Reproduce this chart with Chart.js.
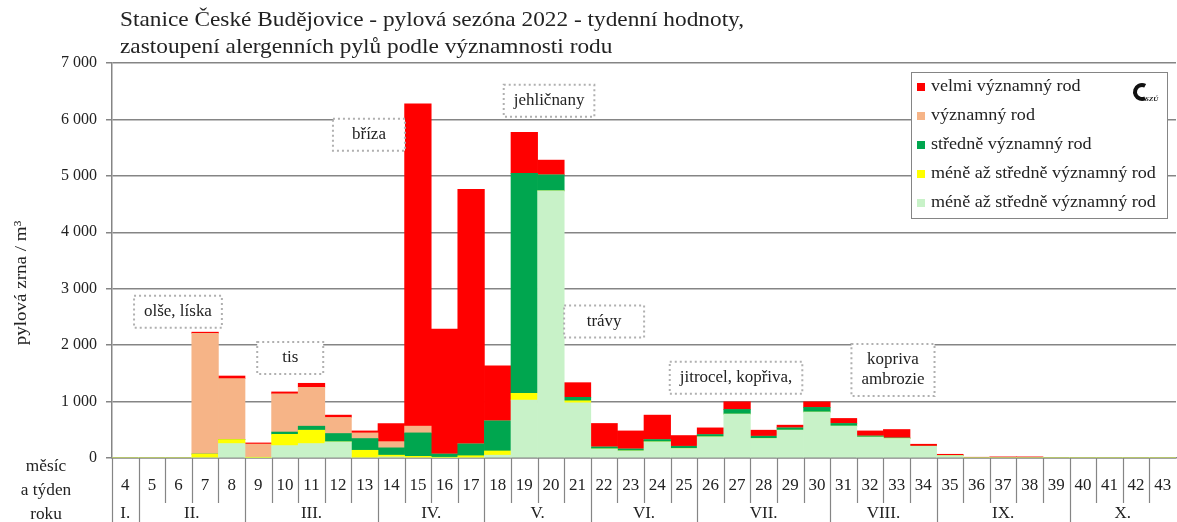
<!DOCTYPE html>
<html lang="cs">
<head>
<meta charset="utf-8">
<title>Stanice České Budějovice - pylová sezóna 2022</title>
<script src="https://cdn.jsdelivr.net/npm/chart.js@4/dist/chart.umd.min.js"></script>
<style>
  html, body { margin: 0; padding: 0; background: #fff; }
  #wrap { width: 1177px; height: 522px; }
</style>
</head>
<body>
<div id="wrap"><canvas id="pollen" width="1177" height="522"></canvas></div>
<script>
// calendar weeks 4..43
const weeks = [4, 5, 6, 7, 8, 9, 10, 11, 12, 13, 14, 15, 16, 17, 18, 19, 20, 21, 22, 23,
               24, 25, 26, 27, 28, 29, 30, 31, 32, 33, 34, 35, 36, 37, 38, 39, 40, 41, 42, 43];
const monthNames  = ['I.', 'II.', 'III.', 'IV.', 'V.', 'VI.', 'VII.', 'VIII.', 'IX.', 'X.'];
const monthStarts = [4, 5, 9, 14, 18, 22, 26, 31, 35, 40];
const yTicks = [0, 1000, 2000, 3000, 4000, 5000, 6000, 7000];

// stacked from the bottom up
const lowMediumB = [0, 0, 0, 0, 256, 0, 220, 256, 285, 0, 20, 0, 0, 0, 50, 1027, 4733, 979, 160, 125,
                    285, 167, 374, 777, 345, 493, 813, 564, 370, 345, 208, 42, 0, 0, 0, 0, 0, 0, 0, 0];
const lowMediumA = [0, 0, 0, 70, 71, 10, 200, 237, 0, 137, 30, 30, 10, 40, 75, 119, 0, 35, 0, 0,
                    0, 0, 0, 0, 0, 0, 0, 0, 0, 0, 0, 0, 0, 0, 0, 0, 0, 0, 0, 0];
const medium     = [0, 0, 0, 0, 0, 0, 40, 71, 149, 208, 130, 415, 60, 210, 533, 3897, 285, 61, 36, 35,
                    42, 41, 42, 84, 41, 41, 84, 48, 20, 10, 0, 0, 0, 0, 0, 0, 0, 0, 0, 0];
const important  = [0, 0, 0, 2140, 1079, 237, 676, 689, 285, 100, 110, 120, 0, 0, 0, 0, 0, 0, 0, 0,
                    0, 0, 0, 0, 0, 0, 0, 0, 0, 0, 0, 0, 0, 0, 0, 0, 0, 0, 0, 0];
const veryImportant = [0, 0, 0, 20, 47, 20, 35, 71, 41, 35, 320, 5710, 2215, 4510, 974, 729, 261, 260, 416, 320,
                       433, 190, 118, 135, 107, 48, 99, 89, 90, 150, 36, 24, 12, 20, 20, 0, 0, 0, 0, 0];

// dotted label boxes: [lines, week-index centre, value centre, min box width]
const notes = [
  [['olše, líska'], 1.98, 2590, 0],
  [['tis'], 6.2, 1770, 66],
  [['bříza'], 9.16, 5730, 72],
  [['jehličnany'], 15.93, 6330, 0],
  [['trávy'], 18.0, 2420, 80],
  [['jitrocel, kopřiva,'], 22.96, 1420, 0],
  [['kopriva', 'ambrozie'], 28.86, 1560, 0]
];

const SERIF = "'Liberation Serif', 'DejaVu Serif', serif";
const INK = '#222';
const LINE = '#858585';

const series = [
  { label: 'méně až středně významný rod', data: lowMediumB, color: '#c8f2c8' },
  { label: 'méně až středně významný rod', data: lowMediumA, color: '#ffff00' },
  { label: 'středně významný rod', data: medium, color: '#00a64f' },
  { label: 'významný rod', data: important, color: '#f6b487' },
  { label: 'velmi významný rod', data: veryImportant, color: '#ff0000' }
];

const fmt = v => v === 0 ? '0' : (v / 1000) + ' 000';

// the original face is a wide book serif; stretch Liberation Serif a bit
function wide(ctx, text, x, y, k) {
  ctx.save();
  ctx.translate(x, y);
  ctx.scale(k, 1);
  ctx.fillText(text, 0, 0);
  ctx.restore();
}

const decor = {
  id: 'decor',
  afterDatasetsDraw(chart) {
    const { ctx, chartArea, scales: { x, y } } = chart;
    ctx.save();

    // titles
    ctx.fillStyle = INK;
    ctx.font = '22px ' + SERIF;
    ctx.textAlign = 'left';
    ctx.textBaseline = 'middle';
    wide(ctx, 'Stanice České Budějovice - pylová sezóna 2022 - tydenní hodnoty,', 120, 20, 1.06);
    wide(ctx, 'zastoupení alergenních pylů podle významnosti rodu', 120, 47, 1.06);

    ctx.save();
    ctx.translate(22, 283);
    ctx.rotate(-Math.PI / 2);
    ctx.textAlign = 'center';
    ctx.font = '17px ' + SERIF;
    wide(ctx, 'pylová zrna / m³', 0, 0, 1.12);
    ctx.restore();

    // dotted note boxes
    ctx.font = '16px ' + SERIF;
    ctx.textAlign = 'center';
    notes.forEach(([lines, wi, v, minW]) => {
      const cx = x.getPixelForValue(wi), cy = y.getPixelForValue(v);
      const w = Math.max(minW, Math.max(...lines.map(t => ctx.measureText(t).width)) * 1.06 + 20);
      const h = lines.length * 20 + 12;
      ctx.fillStyle = '#fff';
      ctx.fillRect(cx - w / 2, cy - h / 2, w, h);
      ctx.setLineDash([2, 3]);
      ctx.lineWidth = 2;
      ctx.strokeStyle = '#b0b0b0';
      ctx.strokeRect(cx - w / 2, cy - h / 2, w, h);
      ctx.setLineDash([]);
      ctx.fillStyle = INK;
      lines.forEach((t, k) => wide(ctx, t, cx, cy - (lines.length - 1) * 10 + k * 20, 1.06));
    });

    // legend box
    const lx = 911, ly = 72;
    ctx.fillStyle = '#fff';
    ctx.fillRect(lx, ly, 256, 146);
    ctx.strokeStyle = LINE;
    ctx.lineWidth = 1;
    ctx.strokeRect(lx + 0.5, ly + 0.5, 256, 146);
    ctx.textAlign = 'left';
    ctx.font = '16px ' + SERIF;
    chart.data.datasets.slice().reverse().forEach((ds, k) => {
      const yy = ly + 15 + k * 29;
      ctx.fillStyle = ds.backgroundColor;
      ctx.fillRect(lx + 6, yy - 4, 8, 8);
      ctx.fillStyle = INK;
      wide(ctx, ds.label, lx + 20, yy, 1.13);
    });
    // small institute logo
    ctx.beginPath();
    ctx.arc(1142, 92, 7, Math.PI * 0.35, Math.PI * 1.65);
    ctx.lineWidth = 4;
    ctx.strokeStyle = '#111';
    ctx.stroke();
    ctx.fillStyle = '#111';
    ctx.font = 'bold italic 7px ' + SERIF;
    ctx.fillText('SZÚ', 1145, 99);

    // week / month table under the axis
    const top = chartArea.bottom, bottom = chart.height;
    const edge = i => x.getPixelForValue(i - 0.5);
    ctx.strokeStyle = LINE;
    ctx.lineWidth = 1.2;
    weeks.forEach((w, i) => {
      const full = i === 0 || monthStarts.includes(w);
      const px = Math.round(edge(i)) + 0.5;
      ctx.beginPath();
      ctx.moveTo(px, top);
      ctx.lineTo(px, full ? bottom : top + 45);
      ctx.stroke();
    });

    ctx.fillStyle = INK;
    ctx.textAlign = 'center';
    ctx.font = '16px ' + SERIF;
    weeks.forEach((w, i) => wide(ctx, String(w), x.getPixelForValue(i), 486, 1.06));
    monthNames.forEach((m, k) => {
      const a = weeks.indexOf(monthStarts[k]);
      const b = k + 1 < monthStarts.length ? weeks.indexOf(monthStarts[k + 1]) : weeks.length;
      wide(ctx, m, (edge(a) + edge(b)) / 2, 514, 1.06);
    });
    wide(ctx, 'měsíc', 46, 467, 1.08);
    wide(ctx, 'a týden', 46, 491, 1.08);
    wide(ctx, 'roku', 46, 515, 1.08);

    ctx.restore();
  }
};

new Chart(document.getElementById('pollen'), {
  type: 'bar',
  data: {
    labels: weeks.map(String),
    datasets: series.map(s => ({
      label: s.label,
      data: s.data,
      backgroundColor: s.color,
      borderWidth: 0,
      barPercentage: 1,
      categoryPercentage: 1
    }))
  },
  options: {
    responsive: false,
    animation: false,
    events: [],
    layout: { padding: { top: 63, right: 1, left: 0, bottom: 0 } },
    plugins: { legend: { display: false }, tooltip: { enabled: false }, title: { display: false } },
    scales: {
      x: {
        stacked: true,
        offset: true,
        grid: { display: false },
        ticks: { display: false },
        border: { color: LINE, width: 1.5 },
        afterFit: s => { s.height = 64; }
      },
      y: {
        stacked: true,
        min: 0,
        max: 7000,
        afterBuildTicks: s => { s.ticks = yTicks.map(v => ({ value: v })); },
        ticks: { callback: fmt, color: INK, padding: 9, font: { family: SERIF, size: 16 } },
        grid: { color: LINE, lineWidth: 1.5, tickLength: 6 },
        border: { color: LINE, width: 1.5 },
        afterFit: s => { s.width = 112; }
      }
    }
  },
  plugins: [decor]
});
</script>
</body>
</html>
